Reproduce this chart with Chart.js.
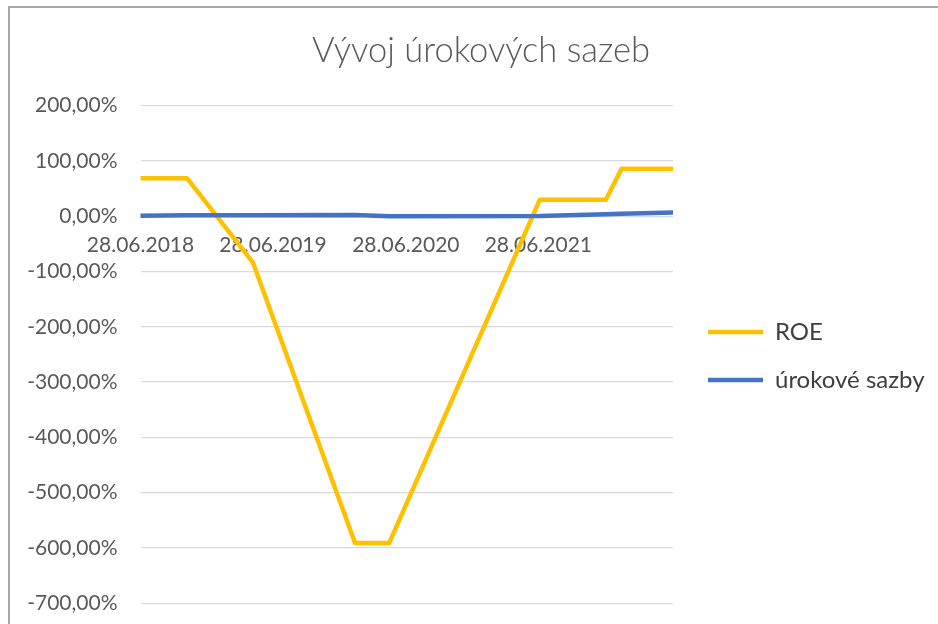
<!DOCTYPE html>
<html><head><meta charset="utf-8">
<script src="https://cdn.jsdelivr.net/npm/chart.js@4"></script>
<style>
html,body{margin:0;padding:0;background:#fff;width:938px;height:624px;overflow:hidden}
#frame{position:absolute;left:8px;top:6px;width:940px;height:640px;border-left:2px solid #a6a6a6;border-top:2px solid #a6a6a6}
#wrap{position:absolute;left:0;top:0;width:938px;height:624px}
</style></head><body>
<div id="frame"></div>
<div id="wrap"><canvas id="c" width="938" height="624"></canvas></div>
<script>
// ---- data ----
const dates = ['28.06.2018','03.11.2018','04.05.2019','09.02.2020','13.05.2020','02.07.2021','31.12.2021','12.02.2022','04.07.2022'];
const roe = [69, 69, -84, -591, -591, 30, 30, 86, 86];
const urokoveSazby = [1.0, 1.75, 2.0, 2.25, 0.25, 0.5, 3.75, 4.5, 7.0];
const seriesNames = ['ROE', 'úrokové sazby'];
const xTickLabels = ['28.06.2018','28.06.2019','28.06.2020','28.06.2021'];
const yMin = -700, yMax = 200, yStep = 100;
const titleText = 'Vývoj úrokových sazeb';

// ---- helpers ----
function toDay(s){ const p = s.split('.').map(Number); return Date.UTC(p[2], p[1]-1, p[0]) / 86400000; }
function fmtPct(v){ return v.toFixed(2).replace('.', ',') + '%'; }
const xs = dates.map(toDay);

// ---- layout ----
const FONT = 'Lato';
const W = 938;
const plotLeft = 140.5, plotRight = 673;
const padLeft = 24, padRight = 0;
const legendW = W - plotRight - padRight;
const legendFontSize = 24, legendBox = 55, legendPad = 24;

const legendFix = {
  id: 'legendFix',
  beforeLayout(chart){
    const lg = chart.legend;
    if (lg && !lg._fixedW){
      const f = lg.fit;
      lg.fit = function(){ f.call(this); this.width = legendW; };
      lg._fixedW = true;
    }
  },
  afterLayout(chart){
    const l = chart.legend;
    l.left += 11; l.right += 11;
    l.top += 1.5; l.bottom += 1.5;
  }
};

new Chart(document.getElementById('c'), {
  type: 'line',
  data: {
    datasets: [
      {
        label: seriesNames[0],
        data: xs.map((x, i) => ({x, y: roe[i]})),
        borderColor: '#FFC000', backgroundColor: '#FFC000',
        borderWidth: 4.5, pointRadius: 0, tension: 0,
        borderJoinStyle: 'round', borderCapStyle: 'round', order: 1
      },
      {
        label: seriesNames[1],
        data: xs.map((x, i) => ({x, y: urokoveSazby[i]})),
        borderColor: '#4472C4', backgroundColor: '#4472C4',
        borderWidth: 4.5, pointRadius: 0, tension: 0,
        borderJoinStyle: 'round', borderCapStyle: 'round', order: 0
      }
    ]
  },
  options: {
    responsive: false, animation: false, devicePixelRatio: 1,
    layout: { padding: { top: 0, left: padLeft, right: padRight, bottom: 20.7 } },
    plugins: {
      title: {
        display: true, text: titleText, color: '#595959',
        font: { family: FONT, size: 34.5, weight: 300, lineHeight: 1.2 },
        padding: { top: 30.3, bottom: 34.0 }
      },
      legend: {
        display: true, position: 'right', align: 'center', fullSize: false,
        labels: {
          color: '#404040', font: { family: FONT, size: legendFontSize },
          usePointStyle: true, pointStyle: 'line', pointStyleWidth: legendBox,
          padding: legendPad,
          sort: (a, b) => a.datasetIndex - b.datasetIndex
        }
      },
      tooltip: { enabled: false }
    },
    scales: {
      x: {
        type: 'linear', position: { y: 0 },
        min: xs[0], max: xs[xs.length - 1],
        afterBuildTicks: (scale) => { scale.ticks = xTickLabels.map(s => ({ value: toDay(s) })); },
        ticks: {
          callback: (v, i) => xTickLabels[i],
          color: '#595959', font: { family: FONT, size: 21 },
          padding: 16, maxRotation: 0, autoSkip: false
        },
        grid: { display: false, drawTicks: false },
        border: { display: false }
      },
      y: {
        min: yMin, max: yMax,
        ticks: {
          stepSize: yStep, callback: (v) => fmtPct(v),
          color: '#595959', font: { family: FONT, size: 21 }, padding: 0
        },
        afterFit: (scale) => { scale.width = plotLeft - padLeft; },
        grid: { color: '#d9d9d9', lineWidth: 1.3, drawTicks: true, tickLength: 23, tickColor: 'rgba(0,0,0,0)' },
        border: { display: false }
      }
    }
  },
  plugins: [legendFix]
});
</script>
</body></html>
